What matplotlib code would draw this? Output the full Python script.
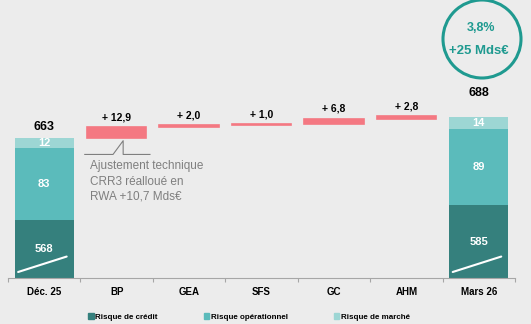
import matplotlib
matplotlib.use("Agg")
import matplotlib.pyplot as plt
from matplotlib.patches import Patch, Ellipse
import numpy as np

plt.rcParams['font.family'] = ['Liberation Sans', 'DejaVu Sans']

categories = ["Déc. 25", "BP", "GEA", "SFS", "GC", "AHM", "Mars 26"]
credit = [568, 585]
operational = [83, 89]
market = [12, 14]
deltas = [12.9, 2.0, 1.0, 6.8, 2.8]
delta_labels = ["+ 12,9", "+ 2,0", "+ 1,0", "+ 6,8", "+ 2,8"]
growth_pct = "3,8%"
growth_abs = "+25 Mds€"
note = "Ajustement technique\nCRR3 réalloué en\nRWA +10,7 Mds€"
series_names = ["Risque de crédit", "Risque opérationnel", "Risque de marché"]

BREAK = 500  # credit bars are cut below this value (axis break)

bg = "#ececec"
c_credit, c_ops, c_mkt, c_delta = "#35807d", "#5bbbbb", "#9dd6d4", "#f47882"
teal = "#1f9a90"
grey = "#7f7f7f"

fig = plt.figure(figsize=(5.31, 3.24), dpi=100, facecolor=bg)
ax = fig.add_axes([8/531, 46/324, 507/531, 278/324], facecolor=bg)
ax.set_xlim(-0.5, 6.5)
ax.set_ylim(0, 324)

w = 0.82
ends = [0, 6]
label_pad = [8, 17]
for i, x in enumerate(ends):
    c = credit[i] - BREAK
    ax.bar(x, c, w, color=c_credit)
    ax.bar(x, operational[i], w, bottom=c, color=c_ops)
    ax.bar(x, market[i], w, bottom=c + operational[i], color=c_mkt)
    top = c + operational[i] + market[i]
    ax.text(x, c / 2, str(credit[i]), ha='center', va='center', color='white',
            fontsize=8, fontweight='bold')
    ax.text(x, c + operational[i] / 2, str(operational[i]), ha='center', va='center',
            color='white', fontsize=8, fontweight='bold')
    ax.text(x, c + operational[i] + market[i] / 2, str(market[i]), ha='center',
            va='center', color='white', fontsize=8, fontweight='bold')
    ax.annotate(str(credit[i] + operational[i] + market[i]), (x, top),
                xytext=(0, label_pad[i]), textcoords='offset points',
                ha='center', va='center', fontsize=9, fontweight='bold')
    # break mark across the credit segment
    ax.plot([x - 0.36, x + 0.31], [7, 25], color='white', lw=1.5, solid_capstyle='round')

# waterfall steps
running = credit[0] + operational[0] + market[0] - BREAK
bottoms = []
for j, d in enumerate(deltas):
    x = j + 1
    ax.bar(x, d, w, bottom=running, color=c_delta, edgecolor=c_delta, linewidth=1.2)
    ax.annotate(delta_labels[j], (x, running + d), xytext=(0, 7),
                textcoords='offset points', ha='center', va='center',
                fontsize=7.5, fontweight='bold')
    bottoms.append(running)
    running += d

# callout under BP
bp_bottom = bottoms[0]
tip, base = bp_bottom - 3, bp_bottom - 19
ax.plot(1 + np.array([-0.44, -0.05, 0.09, 0.09, 0.46]), [base, base, tip, base, base],
        color=grey, lw=0.8)
ax.text(0.63, base - 7, note, ha='left', va='top', fontsize=8.5, color=grey,
        linespacing=1.35)

for s in ['top', 'right', 'left']:
    ax.spines[s].set_visible(False)
ax.spines['bottom'].set_color('#a6a6a6')
ax.spines['bottom'].set_linewidth(0.8)
ax.set_yticks([])
ax.set_xticks(range(len(categories)))
ax.set_xticklabels(categories, fontsize=7, fontweight='bold')
ax.tick_params(axis='x', which='major', length=0, pad=6.5)
ax.set_xticks(np.arange(-0.5, 7, 1), minor=True)
ax.tick_params(axis='x', which='minor', length=3, color='#a6a6a6', width=0.8)

# growth bubble
fig.add_artist(Ellipse((482/531, 1 - 39/324), 78/531, 78/324, transform=fig.transFigure,
                       fill=False, ec=teal, lw=2.2))
fig.text(481/531, 1 - 28/324, growth_pct, ha='center', va='center', color=teal,
         fontsize=9, fontweight='bold')
fig.text(479/531, 1 - 51/324, growth_abs, ha='center', va='center', color=teal,
         fontsize=9.5, fontweight='bold')

handles = [Patch(color=c) for c in (c_credit, c_ops, c_mkt)]
leg = fig.legend(handles, series_names, loc='center', bbox_to_anchor=(249/531, 1 - 317/324),
                 ncol=3, frameon=False, prop={'size': 5.8, 'weight': 'bold'},
                 handlelength=0.7, handleheight=0.7, handletextpad=0.2, columnspacing=5.7)

fig.savefig("out.png", dpi=100, facecolor=bg)
